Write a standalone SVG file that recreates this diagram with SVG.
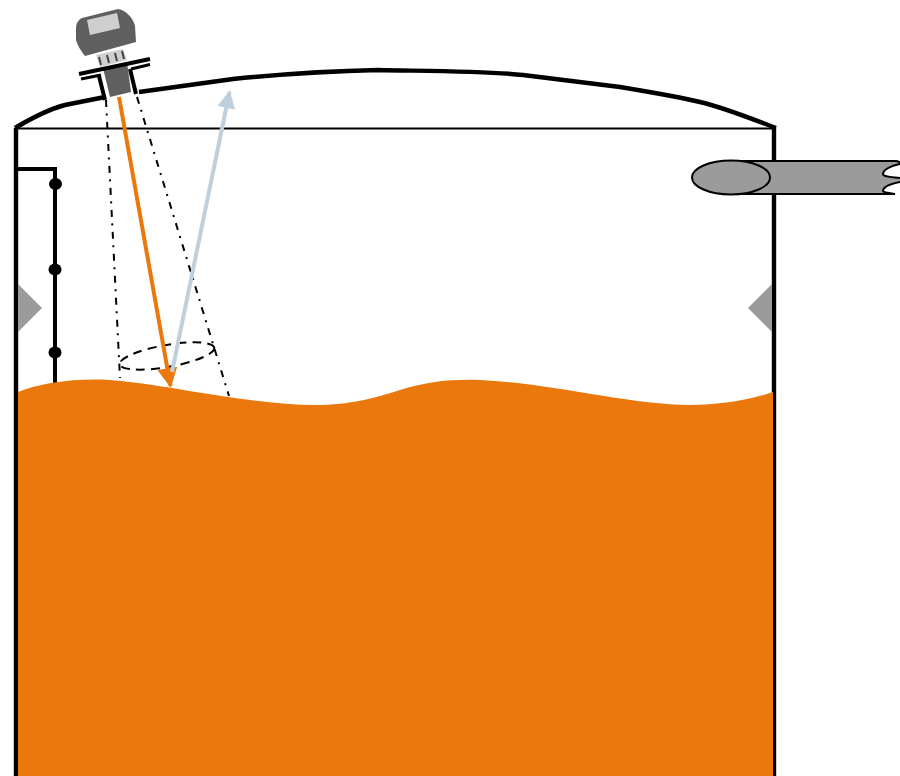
<svg xmlns="http://www.w3.org/2000/svg" width="900" height="776" viewBox="0 0 900 776">
<style>
.wall{fill:none;stroke:#000;stroke-width:4.400}
.probe{fill:none;stroke:#000;stroke-width:4}
.thin{fill:none;stroke:#000;stroke-width:2}
.beam{fill:none;stroke:#000;stroke-width:2;stroke-dasharray:7 6.500 2 6.500}
.dot{fill:#000}
.grey{fill:#9b9b9b}
</style>
<defs>
<marker id="aO" viewBox="0 0 10 10" refX="9" refY="5" markerWidth="5" markerHeight="5" markerUnits="strokeWidth" orient="auto"><path d="M0 0L10 5L0 10Z" fill="#eb780c"/></marker>
<marker id="aB" viewBox="0 0 10 10" refX="9" refY="5" markerWidth="4.500" markerHeight="4.500" markerUnits="strokeWidth" orient="auto"><path d="M0 0L10 5L0 10Z" fill="#bfcfdc"/></marker>
</defs>
<rect width="900" height="776" fill="#fff"/>
<g id="tank">
<path class="wall" d="M16 776V128"/>
<path class="wall" d="M774 776V128"/>
<path class="thin" d="M15 128.500H776"/>
<path class="wall" d="M15 128C35 116 50 109 65 105L105 97M139 92L233 79C283 74 330 71 378 70C420 71 490 71 523 75L620 87C650 92 680 97 700 102C722 107 750 118 776 128"/>
</g>
<g id="inlet-pipe">
<path d="M731 161H895C900 161 900 163 900 164C890 166 883 170 883 174C883 177 892 177 900 178V182C890 184 883 187 883 191C884 193 890 193 895 194H731Z" fill="#9b9b9b"/>
<path d="M731 161H895C900 161 900 163 900 164C890 166 883 170 883 174C883 177 892 177 900 178M900 182C890 184 883 187 883 191C884 193 890 193 895 194H731" fill="none" stroke="#000" stroke-width="2"/>
<ellipse cx="731" cy="177.500" rx="39" ry="17" fill="#9b9b9b" stroke="#000" stroke-width="2"/>
</g>
<g id="left-probe">
<path class="probe" d="M16 169H55V392"/>
<ellipse class="dot" cx="55.500" cy="184" rx="6.500" ry="6"/>
<ellipse class="dot" cx="55" cy="269.500" rx="6.500" ry="6"/>
<ellipse class="dot" cx="55" cy="352.500" rx="6.500" ry="6"/>
</g>
<g id="left-baffle"><path class="grey" d="M18 284L42 308 18 332Z"/></g>
<g id="right-baffle"><path class="grey" d="M772 284L748 308 772 332Z"/></g>
<g id="beam">
<path class="beam" d="M106 100L120 378"/>
<path class="beam" d="M137 97L229 396"/>
<ellipse cx="167" cy="356" rx="48" ry="11" transform="rotate(-10 167 356)" fill="none" stroke="#000" stroke-width="2" stroke-dasharray="9 6"/>
</g>
<g id="liquid">
<path fill="#eb780c" d="M18 392C40 383 75 378 110 380C165 384 250 405 315 405C350 405 375 398 400 390C425 382 450 379 480 380C550 383 630 405 690 405C720 405 750 400 773 392V776H18Z"/>
</g>
<g id="connectors">
<path d="M119 97L170.500 386" fill="none" stroke="#eb780c" stroke-width="4" marker-end="url(#aO)"/>
<path d="M172 372L229.500 92" fill="none" stroke="#bfcfdc" stroke-width="4" marker-end="url(#aB)"/>
</g>
<g id="sensor">
<path d="M96 55L123 49 127 60 100 67Z" fill="#cfcfcf"/>
<path d="M99 57L101 65M107 55L109 63M115 53L117 61M122 51L124 59" stroke="#444" stroke-width="2" fill="none"/>
<path d="M103 68L127 62 131 92 110 97Z" fill="#5f5f5f"/>
<path d="M79 74L150 59" fill="none" stroke="#000" stroke-width="4"/>
<path d="M81 79L101 75M131 69L150 64.500" fill="none" stroke="#000" stroke-width="3"/>
<path d="M99 76L105 100M130 69L136 94" fill="none" stroke="#000" stroke-width="4"/>
<path d="M82 18L118 9C126 10 133 18 135 26L136 42L85 56C80 50 77 44 76 40V28C76 24 78 20 82 18Z" fill="#5f5f5f"/>
<path d="M87 20L117 13 120 28 90 35Z" fill="#cfcfcf"/>
</g>
</svg>
